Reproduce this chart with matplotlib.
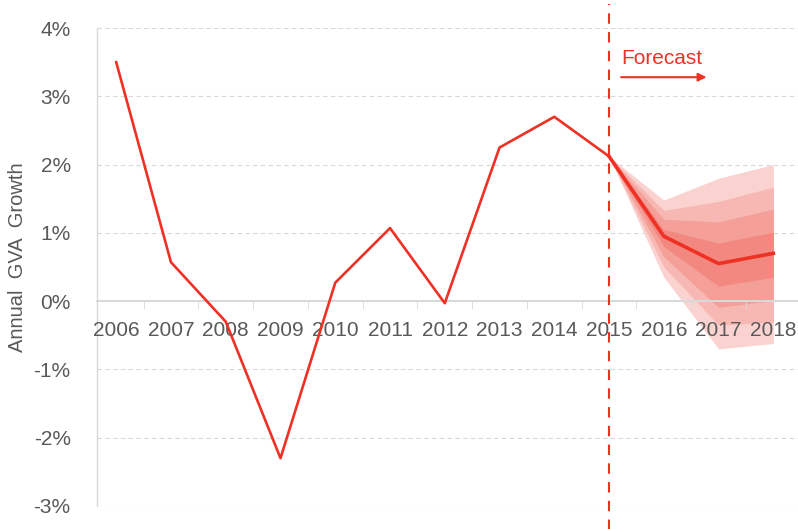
import numpy as np
import matplotlib.pyplot as plt

# data
years = ["2006", "2007", "2008", "2009", "2010", "2011", "2012",
         "2013", "2014", "2015", "2016", "2017", "2018"]
growth = [3.5, 0.57, -0.3, -2.3, 0.27, 1.07, -0.03, 2.25, 2.7, 2.12]
forecast = [2.12, 0.95, 0.55, 0.70]

# fan bands for 2015-2018, outer to inner (upper / lower edges)
band_upper = [
    [2.12, 1.48, 1.80, 2.00],
    [2.12, 1.33, 1.46, 1.67],
    [2.12, 1.20, 1.16, 1.35],
    [2.12, 1.05, 0.85, 1.01],
]
band_lower = [
    [2.12, 0.35, -0.70, -0.62],
    [2.12, 0.50, -0.35, -0.31],
    [2.12, 0.65, -0.09, 0.01],
    [2.12, 0.80, 0.22, 0.35],
]
band_colors = ["#fad3d0", "#f7b7b2", "#f49f98", "#f2887f"]

red = "#ee3124"
grey = "#595959"

plt.rcParams['font.family'] = ['Liberation Sans', 'DejaVu Sans']

fig = plt.figure(figsize=(7.98, 5.29), dpi=100)
ax = fig.add_axes([0.1216, 0.0435, 0.8784, 0.9035])
ax.set_axisbelow(False)

x_hist = np.arange(len(growth))
x_fc = np.arange(len(growth) - 1, len(years))

# fan chart
for up, lo, c in zip(band_upper, band_lower, band_colors):
    ax.fill_between(x_fc, lo, up, color=c, lw=0, zorder=1)

ax.plot(x_hist, growth, color=red, lw=1.9, zorder=4)
ax.plot(x_fc, forecast, color=red, lw=2.6, zorder=4)

# forecast marker
ax.axvline(9, ymin=-0.05, ymax=1.05, color=red, lw=1.5,
           ls=(0, (5, 4)), clip_on=False, zorder=5)
ax.text(9.22, 3.56, "Forecast", color=red, fontsize=15,
        va="center", ha="left")
ax.annotate("", xy=(10.78, 3.28), xytext=(9.22, 3.28),
            arrowprops=dict(arrowstyle="-|>", color=red, lw=1.5,
                            mutation_scale=12, shrinkA=0, shrinkB=0))

ax.set_xlim(-0.35, 12.45)
ax.set_ylim(-3, 4)

# grid
for v in [-3, -2, -1, 1, 2, 3, 4]:
    ax.axhline(v, color="#d9d9d9", lw=0.8, ls=(0, (4, 3)), zorder=0.5)

for s in ["top", "right"]:
    ax.spines[s].set_visible(False)
ax.spines["left"].set_color("#d9d9d9")
ax.spines["left"].set_linewidth(1.0)
ax.spines["bottom"].set_position(("data", 0))
ax.spines["bottom"].set_color("#d9d9d9")
ax.spines["bottom"].set_linewidth(1.5)

ax.set_xticks(np.arange(len(years)))
ax.set_xticklabels(years)
ax.set_xticks(np.arange(len(years) - 1) + 0.5, minor=True)
ax.tick_params(axis="x", which="major", length=0, pad=14,
               labelsize=15, labelcolor=grey)
ax.tick_params(axis="x", which="minor", length=6, color="#d9d9d9")

ax.set_yticks(range(-3, 5))
ax.set_yticklabels([f"{v}%" for v in range(-3, 5)])
ax.tick_params(axis="y", length=0, pad=19, labelsize=15, labelcolor=grey)

fig.text(18 / 798, 1 - 257 / 529, "Annual  GVA  Growth", rotation=90,
         fontsize=14.5, color=grey, ha="center", va="center")

fig.savefig("out.png", dpi=100)
